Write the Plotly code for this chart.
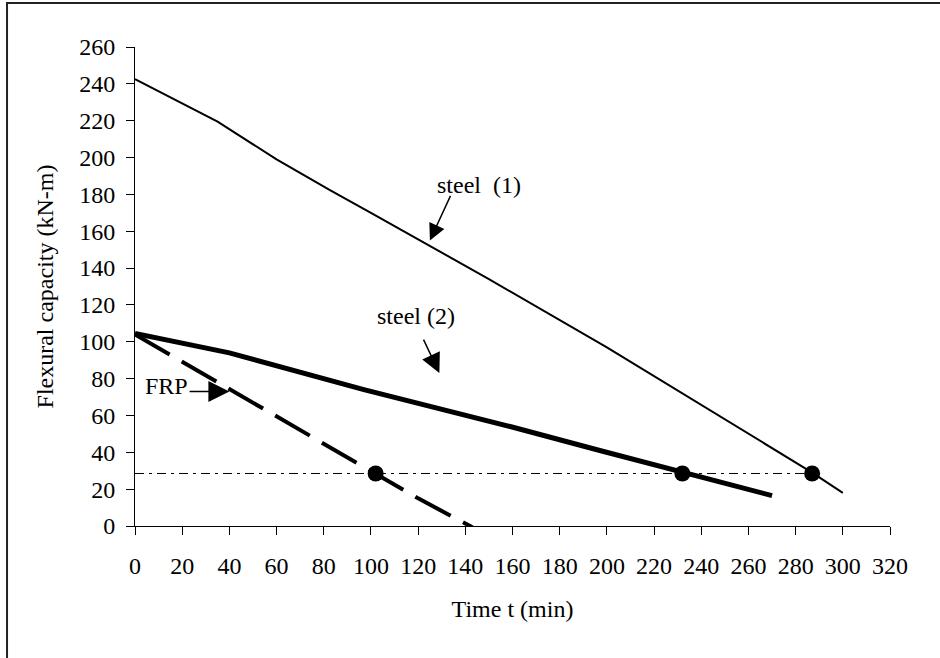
import plotly.graph_objects as go

# Data
steel1_t = [0, 35, 60, 83, 100, 150, 200, 250, 287, 300]
steel1_m = [242.5, 219.5, 199, 182, 170, 134, 97, 58, 29, 18]

steel2_t = [0, 40, 97, 159, 197, 232, 270]
steel2_m = [104.5, 94, 74, 54, 41, 29, 16.5]

frp_t = [0, 40, 80, 102, 120, 142, 150]
frp_m = [104, 74.5, 44.5, 28.3, 15, 0, -6]

limit_t = [0, 287]
limit_m = [28.5, 28.5]

fail_t = [102, 232, 287]
fail_m = [28.5, 28.5, 28.5]

x_ticks = list(range(0, 321, 20))
y_ticks = list(range(0, 261, 20))

FONT = "Liberation Serif"
FS = 24

fig = go.Figure()
fig.add_trace(go.Scatter(x=limit_t, y=limit_m, mode="lines",
                         line=dict(color="black", width=1, dash="9px,5px,3px,5px"),
                         showlegend=False, hoverinfo="skip"))
fig.add_trace(go.Scatter(x=steel1_t, y=steel1_m, mode="lines",
                         line=dict(color="black", width=2), showlegend=False))
fig.add_trace(go.Scatter(x=steel2_t, y=steel2_m, mode="lines",
                         line=dict(color="black", width=5), showlegend=False))
fig.add_trace(go.Scatter(x=frp_t, y=frp_m, mode="lines",
                         line=dict(color="black", width=4, dash="40px,14px"),
                         showlegend=False))
fig.add_trace(go.Scatter(x=fail_t, y=fail_m, mode="markers",
                         marker=dict(color="black", size=16), showlegend=False))

# Labels with arrows
fig.add_annotation(x=146, y=185, text="steel  (1)", showarrow=False,
                   font=dict(family=FONT, size=FS, color="black"))
fig.add_annotation(x=125, y=155, ax=134, ay=180, axref="x", ayref="y", text="",
                   showarrow=True, arrowhead=2, arrowwidth=1.5, arrowsize=2.2,
                   arrowcolor="black")
fig.add_annotation(x=119, y=114, text="steel (2)", showarrow=False,
                   font=dict(family=FONT, size=FS, color="black"))
fig.add_annotation(x=129, y=83, ax=122, ay=102, axref="x", ayref="y", text="",
                   showarrow=True, arrowhead=2, arrowwidth=1.5, arrowsize=2.6,
                   arrowcolor="black")
fig.add_annotation(x=13.5, y=76, text="FRP", showarrow=False,
                   font=dict(family=FONT, size=FS, color="black"))
fig.add_annotation(x=40, y=73, ax=22.5, ay=73, axref="x", ayref="y", text="",
                   showarrow=True, arrowhead=2, arrowwidth=1.5, arrowsize=2.8,
                   arrowcolor="black")

# Outer frame
fig.add_shape(type="rect", xref="paper", yref="paper",
              x0=-0.1695, x1=1.08, y0=-0.3, y1=1.0919,
              line=dict(color="#222", width=2), fillcolor="rgba(0,0,0,0)",
              layer="below")

fig.update_layout(
    width=940, height=658, autosize=False,
    margin=dict(l=135, r=50, t=47, b=132),
    paper_bgcolor="white", plot_bgcolor="white",
    font=dict(family=FONT, size=FS, color="black"),
    xaxis=dict(range=[0, 320], tickvals=x_ticks, ticks="outside", ticklen=8,
               tickcolor="black", showline=True, linecolor="black", linewidth=1,
               showgrid=False, zeroline=False, tickfont=dict(size=FS),
               ticklabelstandoff=10,
               title=dict(text="Time t (min)", font=dict(size=FS), standoff=22)),
    yaxis=dict(range=[0, 260], tickvals=y_ticks, ticks="outside", ticklen=8,
               tickcolor="black", showline=True, linecolor="black", linewidth=1,
               showgrid=False, zeroline=False, tickfont=dict(size=FS),
               ticklabelstandoff=6,
               title=dict(text="Flexural capacity (kN-m)", font=dict(size=FS), standoff=18)),
)

fig.write_html("out.html")
